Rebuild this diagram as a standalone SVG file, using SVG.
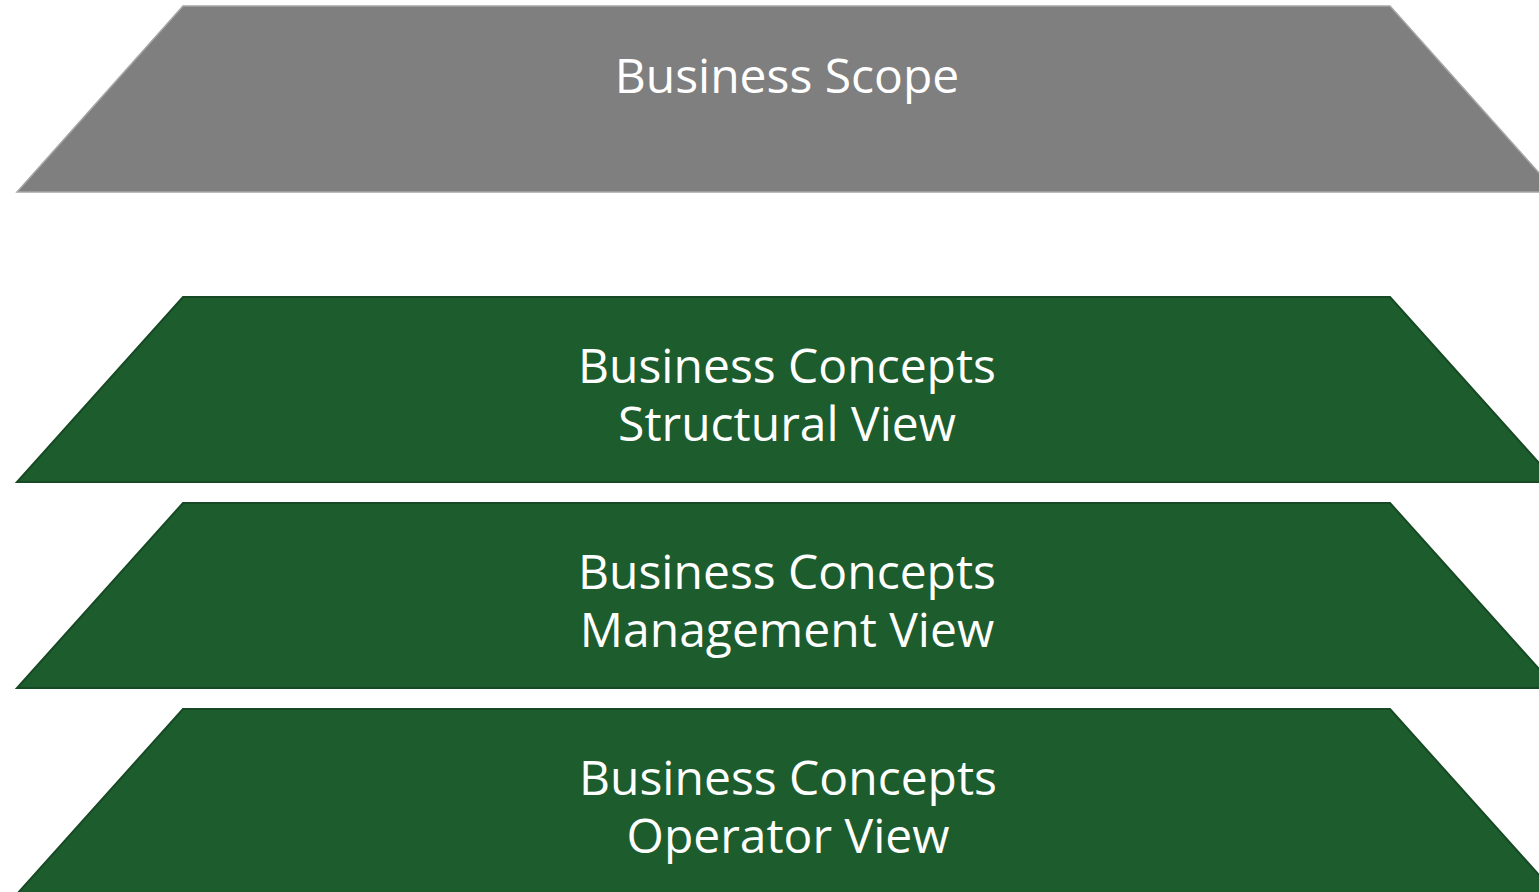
<svg xmlns="http://www.w3.org/2000/svg" width="1539" height="892" viewBox="0 0 1539 892">
<style>
.grey{fill:#7f7f7f;stroke:#a6a6a6;stroke-width:1.5}
.green{fill:#1c5c2d;stroke:#174a24;stroke-width:2}
.t{font-family:"Open Sans","Noto Sans",sans-serif;font-size:48px;fill:#ffffff;text-anchor:middle}
</style>
<rect width="1539" height="892" fill="#ffffff"/>
<g id="scope">
<polygon class="grey" points="183,6 1390,6 1556,192 17,192"/>
<text class="t" x="787" y="93">Business Scope</text>
</g>
<g id="structural">
<polygon class="green" points="183,297 1390,297 1556,482 17,482"/>
<text class="t" x="787" y="383">Business Concepts<tspan x="787" dy="58">Structural View</tspan></text>
</g>
<g id="management">
<polygon class="green" points="183,503 1390,503 1556,688 17,688"/>
<text class="t" x="787" y="589">Business Concepts<tspan x="787" dy="58">Management View</tspan></text>
</g>
<g id="operator">
<polygon class="green" points="183,709 1390,709 1556,894 17,894"/>
<text class="t" x="788" y="795">Business Concepts<tspan x="788" dy="58">Operator View</tspan></text>
</g>
<g id="connectors"></g>
</svg>
